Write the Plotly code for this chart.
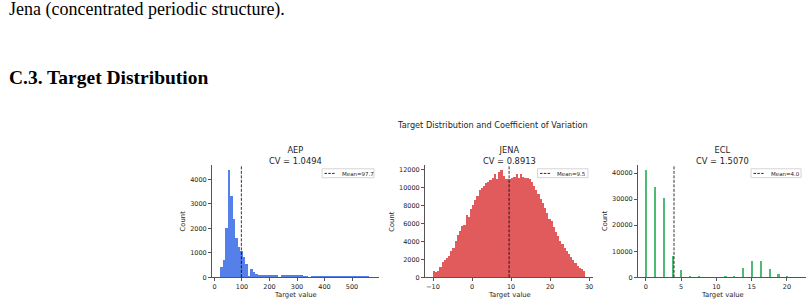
import numpy as np
import plotly.graph_objects as go

W, H = 811, 308

# ---------------- data ----------------
panel_names = ["AEP", "JENA", "ECL"]
cv_values = [1.0494, 0.8913, 1.5070]
mean_values = [97.7, 9.5, 4.0]

# AEP histogram: 60 bins over the data range
aep_bin_range = (20.5, 569.5)
aep_counts = [420, 714, 2020, 4380, 3340, 2400, 1600, 1250, 1080, 850,
              560, 40, 340, 220, 130, 100, 95, 90, 100, 95,
              90, 100, 90, 10, 110, 115, 110, 100, 95, 100,
              90, 85, 90, 80, 75, 10, 70, 75, 70, 65,
              70, 60, 65, 55, 50, 45, 50, 40, 45, 40,
              35, 40, 35, 30, 35, 30, 25, 30, 25, 20]

# JENA histogram: 70 bins over the data range
jena_bin_range = (-10.05, 29.05)
jena_counts = [730, 600, 720, 1150, 1700, 1900, 2150, 2400, 3000, 3300,
               4100, 4700, 5200, 5800, 5900, 7000, 6800, 7600, 8100, 8600,
               9100, 9800, 10000, 10200, 10500, 10650, 10850, 11100, 11550, 10950,
               11750, 11950, 11300, 10950, 11000, 11000, 11050, 11200, 11500, 11100,
               11600, 11250, 11100, 11100, 10950, 10650, 10200, 9750, 9300, 8750,
               8300, 7750, 7200, 6550, 6300, 5600, 5100, 4600, 4100, 3700,
               3300, 2950, 2600, 2250, 1900, 1600, 1300, 1100, 950, 750]

# ECL: discrete target levels and their counts
ecl_levels = [0, 1.25, 2.5, 3.75, 5, 6.25, 7.5, 8.75, 10, 11.25,
              12.5, 13.75, 15, 16.25, 17.5, 18.75, 20, 21.25]
ecl_counts = [41100, 34700, 30400, 8200, 2900, 760, 380, 200, 150, 250,
              750, 3800, 6400, 6400, 3150, 1400, 500, 150]

# tick labels
x_ticks = [[0, 100, 200, 300, 400, 500], [-10, 0, 10, 20, 30], [0, 5, 10, 15, 20]]
y_ticks = [[0, 1000, 2000, 3000, 4000],
           [0, 2000, 4000, 6000, 8000, 10000, 12000],
           [0, 10000, 20000, 30000, 40000]]

suptitle = "Target Distribution and Coefficient of Variation"
page_line = "Jena (concentrated periodic structure)."
page_heading = "C.3. Target Distribution"
x_label = "Target value"
y_label = "Count"

# ---------------- style ----------------
colors = ["#5580EA", "#E15B5D", "#4DBB76"]
MPL = "DejaVu Sans"
SERIF = "Liberation Serif"
AXC = "#555555"
TXT = "#1e1e1e"


def px_x(p):
    return p / W


def px_y(p):
    return 1 - p / H


ax_px = [(212, 379), (425, 593), (638, 806)]
ax_top, ax_bot = 167, 281
x_ranges = [[-9, 598], [-12.05, 31.0], [-1.1, 22.7]]
y_ranges = [[0, 4600], [0, 12550], [0, 43150]]
count_label_x = [183.3, 391.7, 605]
legend_w = [52, 50.5, 50]

fig = go.Figure()


def hist_centers(rng, n):
    edges = np.linspace(rng[0], rng[1], n + 1)
    return (edges[:-1] + edges[1:]) / 2, edges[1] - edges[0]


c_aep, w_aep = hist_centers(aep_bin_range, len(aep_counts))
c_jena, w_jena = hist_centers(jena_bin_range, len(jena_counts))

fig.add_trace(go.Bar(x=c_aep, y=aep_counts, width=w_aep, marker_color=colors[0],
                     marker_line_width=0, xaxis="x", yaxis="y"))
fig.add_trace(go.Bar(x=c_jena, y=jena_counts, width=w_jena, marker_color=colors[1],
                     marker_line_width=0, xaxis="x2", yaxis="y2"))
fig.add_trace(go.Bar(x=ecl_levels, y=ecl_counts, width=0.3, offset=-0.1,
                     marker_color=colors[2], marker_line_width=0,
                     xaxis="x3", yaxis="y3"))

layout = dict(
    width=W, height=H, margin=dict(l=0, r=0, t=0, b=0),
    paper_bgcolor="white", plot_bgcolor="white",
    showlegend=False, barmode="overlay", bargap=0,
)

annotations = []
shapes = []

for i in range(3):
    sfx = "" if i == 0 else str(i + 1)
    x0p, x1p = ax_px[i]
    common = dict(showline=True, linecolor=AXC, linewidth=1, ticks="outside",
                  ticklen=3, tickwidth=1, tickcolor=AXC, showgrid=False,
                  zeroline=False, tickformat="d",
                  tickfont=dict(family=MPL, size=6.5, color=TXT))
    layout["xaxis" + sfx] = dict(domain=[px_x(x0p), px_x(x1p)], range=x_ranges[i],
                                 tickmode="array", tickvals=x_ticks[i],
                                 anchor="y" + sfx, **common)
    layout["yaxis" + sfx] = dict(domain=[px_y(ax_bot), px_y(ax_top)], range=y_ranges[i],
                                 tickmode="array", tickvals=y_ticks[i],
                                 anchor="x" + sfx, **common)
    xc = (x0p + x1p) / 2
    # two-line title
    annotations.append(dict(text=f"{panel_names[i]}<br>CV = {cv_values[i]:.4f}",
                            x=px_x(xc), y=px_y(157.3), xref="paper", yref="paper",
                            xanchor="center", yanchor="middle", showarrow=False,
                            font=dict(family=MPL, size=8.3, color=TXT)))
    # axis labels
    annotations.append(dict(text=x_label, x=px_x(xc), y=px_y(299), xref="paper",
                            yref="paper", xanchor="center", yanchor="middle",
                            showarrow=False, font=dict(family=MPL, size=6.8, color=TXT)))
    annotations.append(dict(text=y_label, x=px_x(count_label_x[i]), y=px_y(224),
                            xref="paper", yref="paper", xanchor="center",
                            yanchor="middle", textangle=-90, showarrow=False,
                            font=dict(family=MPL, size=6.8, color=TXT)))
    # mean line
    shapes.append(dict(type="line", xref="x" + sfx, yref="y" + sfx + " domain",
                       x0=mean_values[i], x1=mean_values[i], y0=0, y1=1,
                       line=dict(color="rgba(0,0,0,0.8)", width=1, dash="3px,1.5px"),
                       layer="above"))
    # legend box
    bx1 = x1p - 5
    bx0 = bx1 - legend_w[i]
    by0, by1 = 171, 180
    shapes.append(dict(type="rect", xref="paper", yref="paper",
                       x0=px_x(bx0), x1=px_x(bx1), y0=px_y(by1), y1=px_y(by0),
                       fillcolor="rgba(255,255,255,0.85)",
                       line=dict(color="#cccccc", width=0.8), layer="above"))
    shapes.append(dict(type="line", xref="paper", yref="paper",
                       x0=px_x(bx0 + 2.5), x1=px_x(bx0 + 13.5),
                       y0=px_y(175.7), y1=px_y(175.7),
                       line=dict(color="rgba(0,0,0,0.85)", width=1, dash="2.5px,1.3px"),
                       layer="above"))
    annotations.append(dict(text=f"Mean={mean_values[i]:.1f}", x=px_x(bx0 + 17.5),
                            y=px_y(175.9), xref="paper", yref="paper",
                            xanchor="left", yanchor="middle", showarrow=False,
                            font=dict(family=MPL, size=5.5, color=TXT)))

annotations.append(dict(text=suptitle, x=px_x(492), y=px_y(126.5), xref="paper",
                        yref="paper", xanchor="center", yanchor="middle",
                        showarrow=False, font=dict(family=MPL, size=8.2, color=TXT)))
annotations.append(dict(text=page_line, x=px_x(6.5), y=px_y(10), xref="paper",
                        yref="paper", xanchor="left", yanchor="middle",
                        showarrow=False, font=dict(family=SERIF, size=18, color="black")))
annotations.append(dict(text=f"<b>{page_heading}</b>", x=px_x(6.5), y=px_y(78.5),
                        xref="paper", yref="paper", xanchor="left", yanchor="middle",
                        showarrow=False, font=dict(family=SERIF, size=19.5, color="black")))

layout["annotations"] = annotations
layout["shapes"] = shapes
fig.update_layout(**layout)
fig.write_html("out.html")
